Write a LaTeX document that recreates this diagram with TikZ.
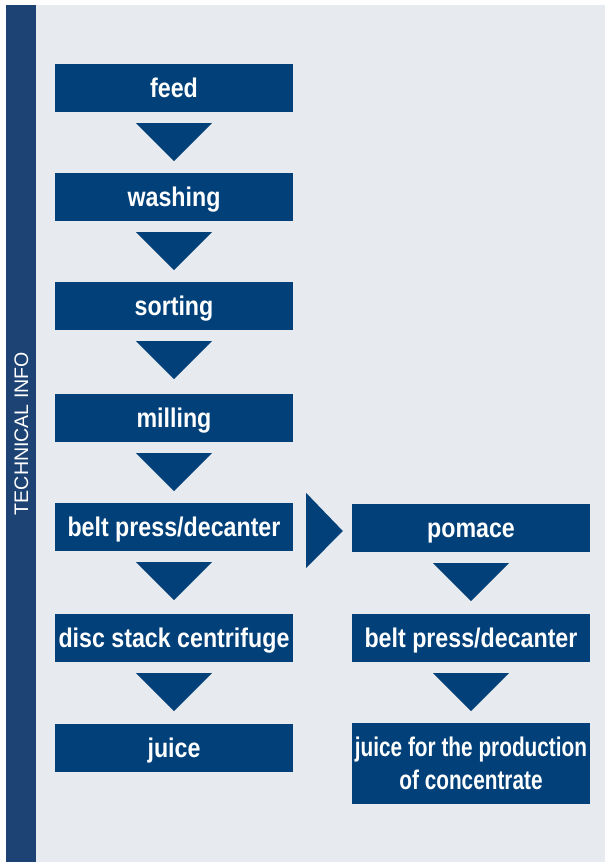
\documentclass[tikz,border=0pt]{standalone}
\usepackage{fontspec}
\setmainfont{Liberation Sans}
\newfontfamily\boxfont[FakeStretch=0.86]{Liberation Sans}
\newfontfamily\tightfont[FakeStretch=0.77]{Liberation Sans}
\usetikzlibrary{calc}
\definecolor{bandblue}{RGB}{28,67,116}
\definecolor{boxblue}{RGB}{1,64,121}
\definecolor{panelgray}{RGB}{231,234,239}
\tikzset{
  stepbox/.style={fill=boxblue, text=white, inner sep=0pt, minimum width=238pt,
    minimum height=48pt, text height=18pt, text depth=0pt,
    font=\boxfont\bfseries\fontsize{27}{33}\selectfont},
  flowtri/.style={fill=boxblue},
}
\newcommand\downtri[1]{\fill[flowtri] ($(#1.south)+(-38,11)$) -- ($(#1.south)+(38,11)$) -- ($(#1.south)+(0,49)$) -- cycle;}
\begin{document}
\begin{tikzpicture}[x=1pt,y=-1pt]
\useasboundingbox (0,0) rectangle (605,862);
\fill[white] (0,0) rectangle (605,862);
\fill[panelgray] (36,5) rectangle (605,862);
\fill[bandblue] (6,5) rectangle (36,862);
\node[text=white, rotate=90, font=\fontsize{19.6}{22}\selectfont, inner sep=0pt] (title) at (21.5,433.5) {TECHNICAL INFO};
% left column
\node[stepbox] (feed) at (174,88) {feed};
\node[stepbox] (wash) at (174,197) {washing};
\node[stepbox] (sort) at (174,306) {sorting};
\node[stepbox] (mill) at (174,418) {milling};
\node[stepbox] (bp) at (174,527) {belt press/decanter};
\node[stepbox] (disc) at (174,638) {disc stack centrifuge};
\node[stepbox] (juice) at (174,748) {juice};
% right column
\node[stepbox] (pom) at (471,528) {pomace};
\node[stepbox] (bp2) at (471,638) {belt press/decanter};
\node[stepbox, minimum height=81pt, text height=, text depth=, align=center,
  font=\tightfont\bfseries\fontsize{27}{33}\selectfont] (conc) at (471,763.5) {juice for the production\\of concentrate};
% connectors
\downtri{feed}
\downtri{wash}
\downtri{sort}
\downtri{mill}
\downtri{bp}
\downtri{disc}
\downtri{pom}
\downtri{bp2}
\fill[flowtri] ($(bp.east)+(13,-34)$) -- ($(bp.east)+(13,41)$) -- ($(pom.west)+(-9,3)$) -- cycle;
\end{tikzpicture}
\end{document}
